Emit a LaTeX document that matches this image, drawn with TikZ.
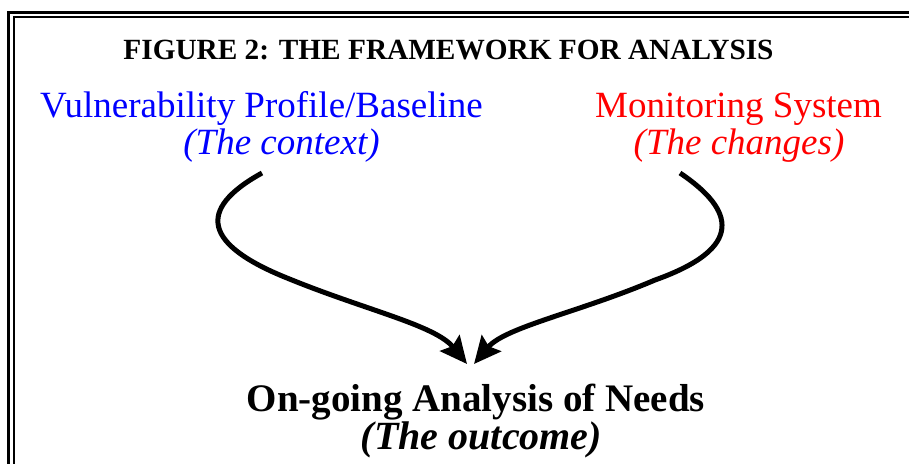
\documentclass[tikz,border=0pt]{standalone}
\usepackage{fontspec}
\setmainfont{Liberation Serif}
\usetikzlibrary{arrows.meta}
\definecolor{vblue}{RGB}{0,0,255}
\definecolor{vred}{RGB}{255,0,0}
\begin{document}
\begin{tikzpicture}[x=1pt,y=-1pt,
  txt/.style={inner sep=0pt, anchor=base},
  titletxt/.style={txt, font=\fontsize{29.3}{31}\selectfont\bfseries},
  headtxt/.style={txt, font=\fontsize{37}{40}\selectfont},
  subtxt/.style={txt, font=\fontsize{37}{40}\selectfont\itshape},
  outtxt/.style={txt, align=center, font=\fontsize{39}{34}\selectfont\bfseries},
  flow/.style={line width=5pt, -{Stealth[length=27pt,width=25pt,inset=4pt]}}]
\useasboundingbox (0,0) rectangle (909,463);
\clip (0,0) rectangle (909,463);
\draw[line width=2.5pt] (8.5,12.5) rectangle (940,500);
\draw[line width=2pt] (13.5,17) rectangle (935,495);
\node[titletxt] (title) at (448.5,59.5) {FIGURE 2: THE FRAMEWORK FOR ANALYSIS};
\node[headtxt, text=vblue] (vuln) at (261.5,117) {Vulnerability Profile/Baseline};
\node[subtxt, text=vblue] (ctx) at (281.5,154) {(The context)};
\node[headtxt, text=vred] (mon) at (738.5,117) {Monitoring System};
\node[subtxt, text=vred] (chg) at (739,154) {(The changes)};
\node[outtxt] (need) at (476,449) {On-going Analysis of Needs\\
  \hspace*{11pt}{\fontsize{40}{34}\selectfont\itshape (The outcome)}};
\coordinate (ls) at (262,173);
\coordinate (lm) at (287,278);
\coordinate (lt) at (467,364);
\coordinate (rs) at (680,173);
\coordinate (rm) at (655,280);
\coordinate (rt) at (474,364);
\draw[flow] (ls) .. controls (195,210) and (205,245) .. (lm)
  .. controls (365,310) and (435,325) .. (lt);
\draw[flow] (rs) .. controls (735,210) and (745,248) .. (rm)
  .. controls (580,312) and (505,327) .. (rt);
\end{tikzpicture}
\end{document}
